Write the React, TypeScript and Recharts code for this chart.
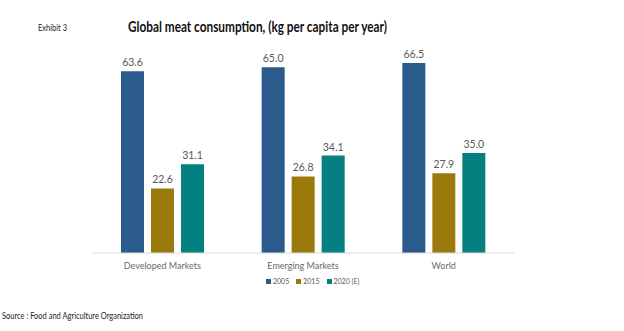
import { BarChart, Bar, XAxis, YAxis, LabelList } from 'recharts';

const categories = ['Developed Markets', 'Emerging Markets', 'World'];
const values2005 = [63.6, 65.0, 66.5];
const values2015 = [22.6, 26.8, 27.9];
const values2020 = [31.1, 34.1, 35.0];
const seriesNames = ['2005', '2015', '2020 (E)'];
const seriesColors = ['#2a5b8c', '#9a7a0c', '#03807f'];
const yTicks = [0, 10, 20, 30, 40, 50, 60, 70];

const data = categories.map((name, i) => ({
  name,
  s2005: values2005[i],
  s2015: values2015[i],
  s2020: values2020[i],
}));

const seriesKeys = ['s2005', 's2015', 's2020'];
const font = 'Lato, "Open Sans", sans-serif';

export default function App() {
  return (
    <div style={{ position: 'absolute', left: 0, top: 0, width: 624, height: 331, background: '#fff', fontFamily: font }}>
      <BarChart
        width={624}
        height={331}
        data={data}
        margin={{ top: 53, right: 110, bottom: 58, left: 92 }}
        barSize={23}
        barGap={7}
      >
        <XAxis
          dataKey="name"
          height={20}
          axisLine={{ stroke: '#d9d9d9' }}
          tickLine={false}
          tick={{ fill: '#6a6a6a', fontSize: 9, fontFamily: font }}
          tickMargin={4}
        />
        <YAxis
          width={0}
          domain={[0, 70]}
          ticks={yTicks}
          axisLine={false}
          tickLine={{ stroke: '#e3e3e3' }}
          tickSize={2}
          tick={{ fill: 'transparent', fontSize: 1 }}
        />
        {seriesKeys.map((k, i) => (
          <Bar key={k} dataKey={k} fill={seriesColors[i]} isAnimationActive={false}>
            <LabelList
              dataKey={k}
              position="top"
              offset={5}
              formatter={(v: any) => Number(v).toFixed(1)}
              style={{ fill: '#595959', fontSize: 10.5, fontFamily: font }}
            />
          </Bar>
        ))}
      </BarChart>
      <svg width={624} height={331} style={{ position: 'absolute', left: 0, top: 0, pointerEvents: 'none' }}>
        <text x={38} y={31} fontSize={9} fill="#222" fontFamily={font} textLength={29} lengthAdjust="spacingAndGlyphs">
          Exhibit 3
        </text>
        <text x={128} y={32} fontSize={15} fontWeight="bold" fill="#111" fontFamily={font} textLength={259} lengthAdjust="spacingAndGlyphs">
          Global meat consumption, (kg per capita per year)
        </text>
        <text x={2} y={319} fontSize={8.5} fill="#222" fontFamily={font} textLength={141} lengthAdjust="spacingAndGlyphs">
          Source : Food and Agriculture Organization
        </text>
      </svg>
      <div style={{ position: 'absolute', left: 266, top: 276, display: 'flex', gap: 7, fontSize: 7, color: '#595959', lineHeight: '10px' }}>
        {seriesNames.map((n, i) => (
          <span key={n} style={{ display: 'flex', alignItems: 'center', gap: 2 }}>
            <span style={{ width: 5, height: 5, background: seriesColors[i], display: 'inline-block' }} />
            {n}
          </span>
        ))}
      </div>
    </div>
  );
}
